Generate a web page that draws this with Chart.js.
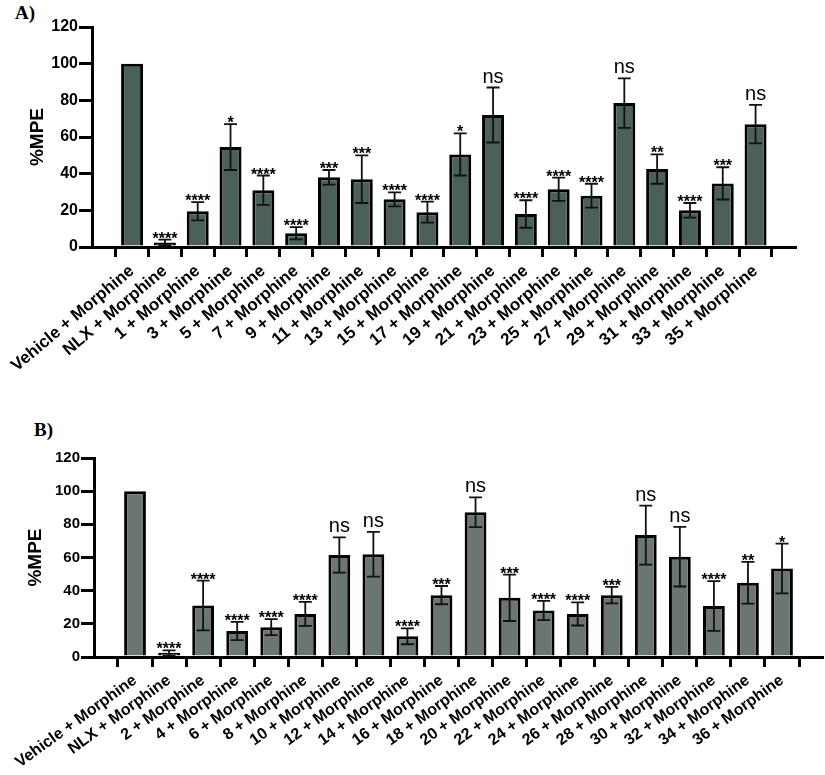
<!DOCTYPE html>
<html>
<head>
<meta charset="utf-8">
<script src="https://cdn.jsdelivr.net/npm/chart.js@4"></script>
<style>
body{margin:0;background:#fff;width:825px;height:775px;position:relative;overflow:hidden}
.panel{position:absolute;left:0}
.tag{position:absolute;font:bold 19px "Liberation Serif","Times New Roman",serif;color:#000}
</style>
</head>
<body>

<div class="tag" style="left:15px;top:2px">A)</div>
<canvas id="chartA" class="panel" style="top:0" width="825" height="390"></canvas>

<div class="tag" style="left:34px;top:419px">B)</div>
<canvas id="chartB" class="panel" style="top:390px" width="825" height="385"></canvas>

<script>

// ============================== DATA ==============================

const yTicks = [0,20,40,60,80,100,120];

const labelsA = ["Vehicle + Morphine","NLX + Morphine","1 + Morphine","3 + Morphine","5 + Morphine",
"7 + Morphine","9 + Morphine","11 + Morphine","13 + Morphine","15 + Morphine","17 + Morphine",
"19 + Morphine","21 + Morphine","23 + Morphine","25 + Morphine","27 + Morphine","29 + Morphine",
"31 + Morphine","33 + Morphine","35 + Morphine"];
const meansA = [100,2.5,19.5,54.5,31,7.5,38,37,26,19,50.5,72,18,31.5,28,78.5,42.5,20,34.7,67];
const semA   = [0,1.5,5,12.5,8,3.3,4,13,3.8,5.7,11.5,15,7.5,6.3,6.5,13.5,8,4,8.8,10.5];
const sigA   = ["","****","****","*","****","****","***","***","****","****","*","ns","****","****","****","ns","**","****","***","ns"];

const labelsB = ["Vehicle + Morphine","NLX + Morphine","2 + Morphine","4 + Morphine","6 + Morphine",
"8 + Morphine","10 + Morphine","12 + Morphine","14 + Morphine","16 + Morphine","18 + Morphine",
"20 + Morphine","22 + Morphine","24 + Morphine","26 + Morphine","28 + Morphine","30 + Morphine",
"32 + Morphine","34 + Morphine","36 + Morphine"];
const meansB = [100,2.5,31,15.7,18,26,61.5,62,12.5,37.3,87.3,35.7,28,26,37.3,73.5,60.5,30.7,44.8,53.4];
const semB   = [0,1.5,15,5.5,4.8,7.2,10.6,13.5,4.8,5.5,9,14,5.8,7,5,17.8,18,15,12.6,15];
const sigB   = ["","****","****","****","****","****","ns","ns","****","***","ns","***","****","****","***","ns","ns","****","**","*"];


// ============================== ERROR BARS + STARS ==============================

const errPlugin = {
id:"errbars",
afterDatasetsDraw(chart, args, o){
const ctx = chart.ctx;
const x = chart.scales.x, y = chart.scales.y;
ctx.save();
ctx.strokeStyle = "#111";
ctx.lineWidth = o.lw;
o.means.forEach((m,i)=>{
const px = x.getPixelForValue(i);
const top = y.getPixelForValue(m + o.sem[i]);
if(o.sem[i] > 0){
const bot = y.getPixelForValue(m - o.sem[i]);
ctx.beginPath();
ctx.moveTo(px,top); ctx.lineTo(px,bot);
ctx.moveTo(px-o.cap,top); ctx.lineTo(px+o.cap,top);
ctx.moveTo(px-o.cap,bot); ctx.lineTo(px+o.cap,bot);
ctx.stroke();
}
const s = o.sig[i];
if(s){
ctx.fillStyle = "#000";
ctx.textAlign = "center";
ctx.textBaseline = "alphabetic";
if(s === "ns"){
ctx.font = "20px Arial, 'Liberation Sans', sans-serif";
ctx.fillText(s, px, top - 5);
}else{
ctx.font = "bold 16px Arial, 'Liberation Sans', sans-serif";
ctx.fillText(s, px, top + 4);
}
}
});
ctx.restore();
}
};


// ============================== CHART BUILDER ==============================

function makePanel(id, labels, means, sem, sig, p){

return new Chart(document.getElementById(id),{
type:"bar",
data:{
datasets:[{
data: means.map((v,i)=>({x:i, y:v})),
backgroundColor: p.fill,
borderColor:"#000",
borderWidth:3,
borderSkipped:"start",
barPercentage:p.bar,
categoryPercentage:1
}]
},
options:{
responsive:false,
animation:false,
events:[],
layout:{padding:{top:p.top, right:p.right, left:0, bottom:0}},
plugins:{
legend:{display:false},
tooltip:{enabled:false},
errbars:{means:means, sem:sem, sig:sig, cap:6.5, lw:1.8}
},
scales:{
x:{
type:"linear",
min:p.xmin,
max:p.xmax,
afterBuildTicks:(s)=>{ s.ticks = labels.map((_,i)=>({value:i})); },
afterFit:(s)=>{ s.height = p.xh; },
ticks:{
callback:(v)=>labels[v],
autoSkip:false,
maxRotation:p.rot,
minRotation:p.rot,
padding:p.xpad,
color:"#000",
font:{family:"Arial, 'Liberation Sans', sans-serif", weight:"bold", size:p.xfont}
},
grid:{display:true, drawOnChartArea:false, drawTicks:true, tickLength:10, lineWidth:3, color:"#000"},
border:{display:true, width:3, color:"#000"}
},
y:{
min:0,
max:120,
afterBuildTicks:(s)=>{ s.ticks = yTicks.map(v=>({value:v})); },
afterFit:(s)=>{ s.width = p.yw; },
ticks:{
padding:1,
color:"#000",
font:{family:"Arial, 'Liberation Sans', sans-serif", weight:"bold", size:p.yfont}
},
title:{
display:true,
text:"%MPE",
color:"#000",
padding:{top:p.tpad, bottom:0},
font:{family:"Arial, 'Liberation Sans', sans-serif", weight:"bold", size:19}
},
grid:{display:true, drawOnChartArea:false, drawTicks:true, tickLength:13, lineWidth:3, color:"#000"},
border:{display:true, width:3, color:"#000"}
}
}
},
plugins:[errPlugin]
});

}


// ============================== PANELS ==============================

makePanel("chartA", labelsA, meansA, semA, sigA,
{fill:"#4b605b", bar:0.67, top:27, right:30, xh:143, yw:92, xmin:-0.686, xmax:19.666, xfont:17, rot:40, xpad:4, yfont:16, tpad:26});

makePanel("chartB", labelsB, meansB, semB, sigB,
{fill:"#6b7673", bar:0.64, top:68, right:3, xh:118, yw:94, xmin:-0.67, xmax:19.64, xfont:16, rot:36, xpad:4, yfont:15, tpad:24});

</script>
</body>
</html>
